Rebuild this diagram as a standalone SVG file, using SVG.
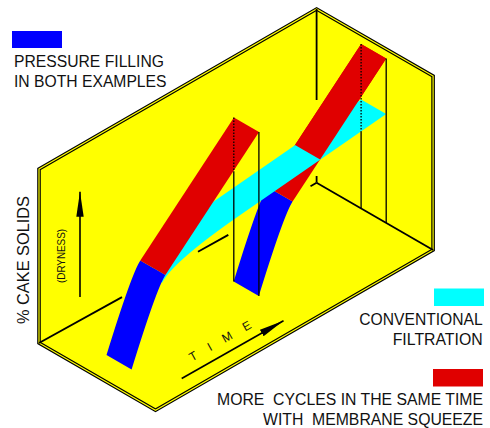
<svg xmlns="http://www.w3.org/2000/svg" width="490" height="428" viewBox="0 0 490 428">
<style>
.txt{font-family:"Liberation Sans",Arial,sans-serif;fill:#111;}
.leg{font-size:16px;}
.edge{stroke:#000;stroke-width:1.8;fill:none;stroke-linecap:butt;}
.drop{stroke:#000;stroke-width:1.3;fill:none;}
.dot{stroke:#000;stroke-width:1.3;stroke-dasharray:1.5 1.5;fill:none;}
.blue{fill:#0000FF;}
.red{fill:#E00000;}
.cyan{fill:#00FFFF;}
.arrow{stroke:#000;stroke-width:1.6;fill:none;marker-end:url(#ah);}
</style>
<defs>
<marker id="ah" markerUnits="userSpaceOnUse" markerWidth="26" markerHeight="9" refX="25" refY="4" orient="auto">
<path d="M0,0.3 L25,4 L0,7.7 Z" fill="#000"/>
</marker>
</defs>

<g id="box">
<polygon points="39,169 316.6,9 433.1,76 433.1,250 155.5,410.2 39,343" fill="#FFFF00" stroke="#000" stroke-width="3.6" stroke-linejoin="miter"/>
<polygon points="39,169 316.6,9 433.1,76 433.1,250 155.5,410.2 39,343" fill="none" stroke="#FFFF00" stroke-width="1.2"/>
<line class="edge" x1="316.6" y1="9" x2="316.6" y2="100" stroke-width="2"/>
<line class="edge" x1="316.6" y1="176" x2="316.6" y2="182.7"/>
<line class="edge" x1="316.6" y1="182.7" x2="433.1" y2="250"/>
<line class="edge" x1="316.6" y1="182.7" x2="310.5" y2="186.2"/>
<line class="edge" x1="39" y1="343" x2="122" y2="297.1"/>
<line class="edge" x1="198" y1="251.8" x2="228.3" y2="234.9"/>
</g>

<g id="cycle2">
<path class="blue" d="M233.7,281.6 Q258.7,200.5 267.5,187.1 L292.6,201.6 Q283.8,215 258.8,296.1 Z"/>
<path class="red" d="M267.5,187.1 L361.1,44.1 L386.2,58.6 L292.6,201.6 Z"/>
</g>

<g id="conventional">
<path class="cyan" d="M150,262 L205,207.5 L361.1,99.5 L386.2,114 L240.6,214.8 Q172.7,261.8 162,283 Z"/>
</g>

<g id="cycle2-top">
<path class="red" d="M295,145.1 L361.1,44.1 L386.2,58.6 L320.1,159.6 Z"/>
</g>

<g id="cycle1">
<path class="blue" d="M106.5,355 Q131.5,273.9 140.3,260.5 L165.4,275 Q156.6,288.4 131.6,369.5 Z"/>
<path class="red" d="M140.3,260.5 L233.9,117.5 L259,132 L165.4,275 Z"/>
</g>

<g id="connectors">
<line class="dot" x1="233.8" y1="117.5" x2="233.8" y2="171.3"/>
<line class="drop" x1="233.8" y1="171.3" x2="233.8" y2="281.6"/>
<line class="drop" x1="258.9" y1="132" x2="258.9" y2="296.1"/>
<line class="dot" x1="361.1" y1="44.1" x2="361.1" y2="131.3"/>
<line class="drop" x1="361.1" y1="131.3" x2="361.1" y2="208.4"/>
<line class="drop" x1="386.2" y1="58.6" x2="386.2" y2="222.9"/>
<line class="arrow" x1="80" y1="297" x2="80" y2="191.7"/>
<line class="arrow" x1="181.7" y1="378.5" x2="283.5" y2="320.7"/>
</g>

<g id="axis-labels">
<text class="txt" font-size="16.5" transform="translate(29,260) rotate(-90)" x="-64" y="0" textLength="128" lengthAdjust="spacingAndGlyphs">% CAKE SOLIDS</text>
<text class="txt" font-size="10" transform="translate(64.5,256) rotate(-90)" x="-27" y="0" textLength="54" lengthAdjust="spacingAndGlyphs">(DRYNESS)</text>
<text class="txt" font-size="12" letter-spacing="13.5" transform="translate(192,361.5) rotate(-29.5)" x="0" y="0">TIME</text>
</g>

<g id="legend-pressure">
<rect class="blue" x="12" y="31" width="50" height="17"/>
<text class="txt leg" x="14" y="66.5" textLength="150" lengthAdjust="spacingAndGlyphs">PRESSURE FILLING</text>
<text class="txt leg" x="14" y="86.5" textLength="152.5" lengthAdjust="spacingAndGlyphs">IN BOTH EXAMPLES</text>
</g>

<g id="legend-conventional">
<rect class="cyan" x="434" y="288.5" width="50" height="17.5"/>
<text class="txt leg" x="359.3" y="325" textLength="123.4" lengthAdjust="spacingAndGlyphs">CONVENTIONAL</text>
<text class="txt leg" x="392.7" y="345" textLength="90" lengthAdjust="spacingAndGlyphs">FILTRATION</text>
</g>

<g id="legend-membrane">
<rect class="red" x="433" y="369" width="50" height="17.5"/>
<text class="txt leg" xml:space="preserve" x="217" y="405" textLength="266" lengthAdjust="spacingAndGlyphs">MORE  CYCLES IN THE SAME TIME</text>
<text class="txt leg" xml:space="preserve" x="263" y="425" textLength="220" lengthAdjust="spacingAndGlyphs">WITH  MEMBRANE SQUEEZE</text>
</g>
</svg>
